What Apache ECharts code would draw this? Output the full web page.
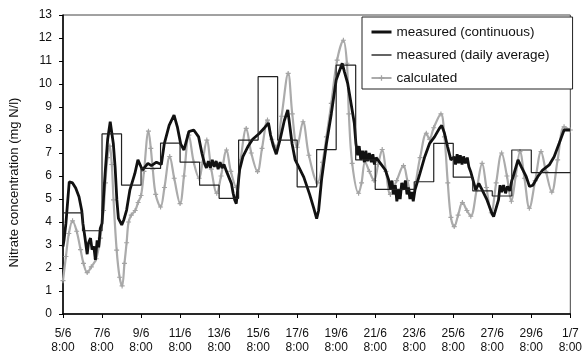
<!DOCTYPE html>
<html>
<head>
<meta charset="utf-8">
<script src="https://cdn.jsdelivr.net/npm/echarts@6/dist/echarts.min.js"></script>
<style>html,body{margin:0;padding:0;background:#fff}#c{width:585px;height:355px}</style>
</head>
<body>
<div id="c"></div>
<script>
// x values are days since 5/6 8:00
var xTickLabels = ['5/6\n8:00','7/6\n8:00','9/6\n8:00','11/6\n8:00','13/6\n8:00','15/6\n8:00','17/6\n8:00','19/6\n8:00','21/6\n8:00','23/6\n8:00','25/6\n8:00','27/6\n8:00','29/6\n8:00','1/7\n8:00'];

var dailyAverage = [4.4,3.62,7.83,5.6,6.33,7.43,6.6,5.6,5.03,7.56,10.32,7.56,5.53,7.15,10.82,6.7,5.42,5.42,5.75,7.42,5.95,5.35,5.13,7.13,6.15,6.15];

var measuredT = [0,0.05,0.15,0.32,0.49,0.65,0.82,0.96,1.02,1.12,1.24,1.31,1.41,1.49,1.58,1.66,1.75,1.83,1.91,2.0,2.08,2.17,2.29,2.42,2.47,2.58,2.67,2.76,2.84,3.01,3.12,3.26,3.43,3.68,3.84,4.07,4.35,4.53,4.79,5.04,5.19,5.44,5.69,5.86,6.03,6.2,6.3,6.45,6.7,6.95,7.12,7.25,7.35,7.45,7.55,7.65,7.75,7.85,7.95,8.05,8.15,8.25,8.38,8.63,8.72,8.8,8.88,9.05,9.22,9.47,9.72,10.06,10.33,10.53,10.63,10.78,10.93,11.13,11.34,11.52,11.74,11.9,12.08,12.34,12.64,12.85,13.0,13.1,13.25,13.5,13.75,14.0,14.31,14.42,14.59,14.76,14.93,15.01,15.1,15.18,15.26,15.35,15.45,15.52,15.6,15.7,15.8,15.88,15.96,16.05,16.27,16.52,16.69,16.78,16.86,16.94,17.03,17.11,17.2,17.28,17.36,17.45,17.55,17.63,17.7,17.78,17.87,17.95,18.04,18.29,18.54,18.79,19.04,19.29,19.41,19.55,19.71,19.88,20.05,20.12,20.2,20.28,20.36,20.45,20.53,20.62,20.72,20.8,20.89,21.06,21.15,21.31,21.48,21.73,21.98,22.07,22.32,22.4,22.48,22.58,22.68,22.78,22.9,23.0,23.07,23.32,23.49,23.74,23.91,24.08,24.33,24.58,24.92,25.17,25.43,25.68,26.0];
var measuredV = [2.93,3.2,3.94,5.75,5.7,5.48,5.1,4.5,3.94,3.36,2.6,3.1,3.3,2.8,2.94,2.35,3.2,2.9,3.72,3.94,5.1,6.26,7.6,8.36,8.3,7.4,6.4,4.96,4.16,3.87,4.1,4.52,5.4,6.1,6.7,6.26,6.55,6.45,6.6,6.5,7.4,8.2,8.65,8.14,7.4,7.13,7.2,7.93,8.0,7.7,6.99,6.55,6.35,6.65,6.35,6.7,6.4,6.65,6.3,6.6,6.35,6.5,6.2,5.68,5.25,4.96,4.8,6.26,6.84,7.27,7.6,7.85,8.1,8.3,7.8,7.3,6.95,7.6,8.4,8.87,7.4,6.7,6.4,5.95,5.2,4.6,4.15,4.5,5.83,7.4,8.7,10.17,10.9,10.54,10.03,9.16,8.29,7.42,6.9,7.3,6.7,7.1,6.6,7.1,6.65,7.0,6.6,6.95,6.5,6.8,6.55,6.26,5.83,5.4,5.8,5.2,5.6,4.9,5.4,5.0,5.7,5.4,5.8,5.2,5.5,5.0,5.3,4.9,5.4,6.1,6.84,7.42,7.7,8.07,8.2,7.86,7.27,6.7,6.84,6.5,6.95,6.55,6.9,6.5,6.85,6.55,6.8,6.4,6.2,5.68,5.4,5.68,5.4,4.96,4.38,4.23,4.96,5.6,5.3,5.6,5.25,5.55,5.35,5.8,5.97,6.7,6.4,5.97,5.54,5.6,5.97,6.26,6.48,6.84,7.42,8.0,8.0];

var calcT = [0,0.15,0.3,0.49,0.7,0.9,1.05,1.24,1.45,1.7,1.91,2.08,2.17,2.28,2.4,2.5,2.59,2.75,2.9,3.03,3.15,3.26,3.36,3.5,3.7,3.85,4.0,4.15,4.38,4.5,4.6,4.75,5.0,5.2,5.47,5.7,6.0,6.2,6.45,6.7,6.98,7.15,7.37,7.6,7.88,8.1,8.38,8.6,8.88,9.1,9.39,9.65,9.97,10.2,10.48,10.7,10.92,11.2,11.54,11.75,12.0,12.3,12.6,13.05,13.3,13.5,13.75,14.05,14.37,14.55,14.65,14.82,15.15,15.3,15.48,15.7,15.94,16.15,16.36,16.55,16.78,17.1,17.45,17.65,17.87,18.3,18.62,18.78,19.0,19.37,19.55,19.72,19.88,20.05,20.25,20.47,20.7,20.9,21.2,21.48,21.7,21.95,22.2,22.48,22.75,22.98,23.2,23.42,23.65,23.9,24.2,24.5,24.75,25.05,25.35,25.68,26.0];
var calcV = [1.45,2.5,3.5,4.05,3.6,2.8,2.2,1.8,2.05,2.4,3.3,4.5,5.7,6.8,7.3,6.5,4.96,2.78,1.6,1.22,2.2,3.1,4.0,4.3,4.5,4.85,5.15,6.2,7.95,7.2,6.3,5.2,4.65,5.5,6.85,5.9,4.8,6.0,7.78,6.6,5.9,6.6,7.56,6.3,5.25,6.0,7.13,6.2,5.5,6.7,8.07,7.0,6.19,7.2,8.43,7.6,7.25,8.6,10.46,8.7,7.25,8.36,6.9,5.7,6.6,7.7,9.16,11.04,11.9,10.9,8.7,6.55,5.25,5.7,6.62,6.2,5.8,6.5,7.15,6.2,5.2,5.8,6.45,5.8,5.1,6.8,7.86,7.6,8.1,8.7,7.7,5.7,4.2,3.8,4.3,4.85,4.5,4.25,5.4,6.55,5.5,4.4,5.7,7.0,6.0,4.9,6.0,7.06,5.9,4.6,5.8,7.06,6.2,5.3,6.7,8.14,8.0];

function pairs(t, v) { return t.map(function (x, i) { return [x, v[i]]; }); }
var stepData = dailyAverage.map(function (v, i) { return [i, v]; });
stepData.push([dailyAverage.length, dailyAverage[dailyAverage.length - 1]]);

var FONT = 'Liberation Sans';
// plus marker centred in a slightly larger invisible box
var plusMark = 'path://M0,0h0.01v0.01h-0.01Z M14,14h0.01v0.01h-0.01Z M6.2,3.5H7.8V6.2H10.5V7.8H7.8V10.5H6.2V7.8H3.5V6.2H6.2Z';

var chart = echarts.init(document.getElementById('c'), null, {renderer: 'canvas'});
chart.setOption({
  animation: false,
  backgroundColor: '#fff',
  textStyle: {fontFamily: FONT},
  grid: {left: 57, right: 13, top: 15, bottom: 41, show: true, borderColor: '#444', borderWidth: 1, backgroundColor: 'transparent'},
  legend: {
    data: [
      {name: 'measured (continuous)', itemStyle: {opacity: 0}, lineStyle: {width: 3}},
      {name: 'measured (daily average)', itemStyle: {opacity: 0}, lineStyle: {width: 1.4}},
      {name: 'calculated'}
    ],
    orient: 'vertical', left: 362, top: 17,
    backgroundColor: '#fff', borderColor: '#222', borderWidth: 1,
    padding: [8, 23, 4, 8], itemGap: 9, itemWidth: 20, itemHeight: 14,
    textStyle: {fontFamily: FONT, fontSize: 13.5, color: '#111'}
  },
  xAxis: {
    type: 'value', min: 0, max: 26, interval: 2,
    axisLine: {show: true, onZero: false, lineStyle: {color: '#000', width: 1.5}},
    axisTick: {show: true, inside: false, length: 4, lineStyle: {color: '#000'}},
    splitLine: {show: false},
    axisLabel: {
      fontFamily: FONT, fontSize: 12, color: '#111', margin: 13, lineHeight: 14,
      formatter: function (v) { return xTickLabels[Math.round(v / 2)]; }
    }
  },
  yAxis: {
    type: 'value', min: 0, max: 13, interval: 1,
    name: 'Nitrate concentration (mg N/l)', nameLocation: 'middle', nameGap: 42,
    nameTextStyle: {fontFamily: FONT, fontSize: 13, color: '#111', padding: [0, 36, 0, 0]},
    axisLine: {show: true, lineStyle: {color: '#000', width: 1.5}},
    axisTick: {show: true, inside: false, length: 4, lineStyle: {color: '#000'}},
    splitLine: {show: false},
    axisLabel: {fontFamily: FONT, fontSize: 12, color: '#111', margin: 11}
  },
  series: [
    {
      name: 'calculated', type: 'line', data: pairs(calcT, calcV), smooth: 0.35,
      symbol: plusMark, symbolSize: 10, showSymbol: true,
      lineStyle: {color: '#ababab', width: 2.2},
      itemStyle: {color: '#a3a3a3'}, z: 2
    },
    {
      name: 'measured (continuous)', type: 'line', data: pairs(measuredT, measuredV),
      symbol: 'none', lineStyle: {color: '#111', width: 2.8},
      itemStyle: {color: '#111'}, z: 3
    },
    {
      name: 'measured (daily average)', type: 'line', data: stepData, step: 'end',
      symbol: 'none', lineStyle: {color: '#222', width: 1.2},
      itemStyle: {color: '#222'}, z: 4
    }
  ]
});
</script>
</body>
</html>
